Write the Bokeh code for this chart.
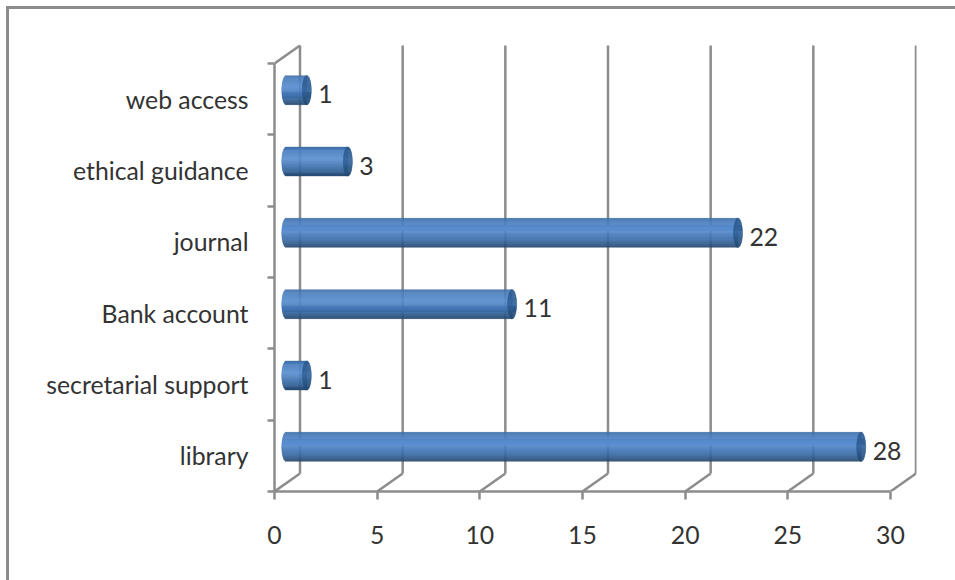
import numpy as np
from bokeh.embed import file_html
from bokeh.models import FixedTicker, Range1d
from bokeh.plotting import figure
from bokeh.resources import INLINE

# ---- data ----
categories = ["library", "secretarial support", "Bank account", "journal", "ethical guidance", "web access"]
values = [28, 1, 11, 22, 3, 1]
value_ticks = [0, 5, 10, 15, 20, 25, 30]

# ---- geometry (pixels per unit, perspective depth) ----
PX_X = 616 / 30
PX_Y = 428 / 6
DEPTH_X = 25.5 / PX_X
DEPTH_Y = 18 / PX_Y
MID_X, MID_Y = 11.75 / PX_X, DEPTH_Y / 2
RX = 4.5 / PX_X
RY = 14.5 / PX_Y
GREY = "#8c8c8c"
FONT = "Lato"
FSIZE = "24.8px"
TEXT = "#333333"
n = len(categories)

bar = "linear-gradient(#8c8c8c,#8c8c8c)"
p = figure(width=955, height=580, output_backend="svg", toolbar_location=None,
           x_range=Range1d(0, (916 - 274) / PX_X), y_range=Range1d(0, (491 - 44) / PX_Y),
           min_border_left=274, min_border_right=955 - 916, min_border_top=44, min_border_bottom=580 - 491,
           outline_line_color=None, background_fill_color=None, border_fill_color=None,
           styles={"background": f"{bar} 6px 6px / 3px 574px no-repeat, {bar} 6px 6px / 949px 3px no-repeat, white"})
p.grid.visible = False

# axes
xa = p.xaxis[0]
xa.ticker = FixedTicker(ticks=value_ticks, minor_ticks=[])
xa.bounds = (0, 30)
xa.axis_line_color = GREY
xa.axis_line_width = 2.5
xa.major_tick_line_color = GREY
xa.major_tick_line_width = 2.5
xa.major_tick_out = 8
xa.major_tick_in = 0
xa.major_label_standoff = 26
xa.major_label_text_font = FONT
xa.major_label_text_font_size = FSIZE
xa.major_label_text_color = TEXT

ya = p.yaxis[0]
centers = [i + 0.5 for i in range(n)]
edges = list(range(n + 1))
ya.ticker = FixedTicker(ticks=centers, minor_ticks=edges)
ya.bounds = (0, n)
ya.major_label_overrides = {c: name for c, name in zip(centers, categories)}
ya.axis_line_color = GREY
ya.axis_line_width = 2.5
ya.major_tick_line_color = None
ya.major_tick_out = 0
ya.major_tick_in = 0
ya.minor_tick_line_color = GREY
ya.minor_tick_line_width = 2.5
ya.minor_tick_out = 7
ya.minor_tick_in = 0
ya.major_label_standoff = 19
ya.major_label_text_font = FONT
ya.major_label_text_font_size = FSIZE
ya.major_label_text_color = TEXT

# back wall grid, floor diagonals, side wall top
top_y = n + DEPTH_Y
p.segment(x0=[v + DEPTH_X for v in value_ticks], x1=[v + DEPTH_X for v in value_ticks],
          y0=[DEPTH_Y] * len(value_ticks), y1=[top_y] * len(value_ticks), line_color=GREY, line_width=2.5)
p.segment(x0=value_ticks, x1=[v + DEPTH_X for v in value_ticks], y0=[0] * len(value_ticks),
          y1=[DEPTH_Y] * len(value_ticks), line_color=GREY, line_width=2.5)
p.segment(x0=[0], x1=[DEPTH_X], y0=[n], y1=[top_y], line_color=GREY, line_width=2.5)


def ramp(stops, colors, t):
    rgb = [[int(c[i:i + 2], 16) for i in (1, 3, 5)] for c in colors]
    return "#%02x%02x%02x" % tuple(int(round(np.interp(t, stops, [c[k] for c in rgb]))) for k in range(3))


BODY_S = [0, 0.1, 0.4, 0.7, 0.9, 1]
BODY_C = ["#3f6ea6", "#4a7dbb", "#5c90d3", "#3f72ae", "#2f5a8a", "#29496d"]
CAP_S = [0, 0.5, 1]
CAP_C = ["#2f5c92", "#35659c", "#234a72"]
STRIPS = 30
L, R, B, T, C = [], [], [], [], []
cL, cR, cB, cT, cC = [], [], [], [], []
for i, v in enumerate(values):
    cy = centers[i] + MID_Y
    for s in range(STRIPS):
        u0, u1 = s / STRIPS, (s + 1) / STRIPS
        um = (u0 + u1) / 2
        bow = np.sqrt(max(0.0, 1 - (2 * um - 1) ** 2))
        top, bot = cy + RY * (1 - 2 * u0), cy + RY * (1 - 2 * u1)
        L.append(MID_X - RX * bow); R.append(v + MID_X); T.append(top); B.append(bot)
        C.append(ramp(BODY_S, BODY_C, um))
        cL.append(v + MID_X - RX * bow); cR.append(v + MID_X + RX * bow); cT.append(top); cB.append(bot)
        cC.append(ramp(CAP_S, CAP_C, um))
p.quad(left=L, right=R, top=T, bottom=B, fill_color=C, line_color=C, line_width=0.4)
p.quad(left=cL, right=cR, top=cT, bottom=cB, fill_color=cC, line_color=cC, line_width=0.4)

# data labels
p.text(x=[v + MID_X + RX for v in values], y=[c + 0.07 for c in centers], text=[str(v) for v in values],
       x_offset=7, text_align="left", text_baseline="middle", text_font={"value": FONT},
       text_font_size={"value": FSIZE}, text_color=TEXT)

open("out.html", "w").write(file_html(p, INLINE))
